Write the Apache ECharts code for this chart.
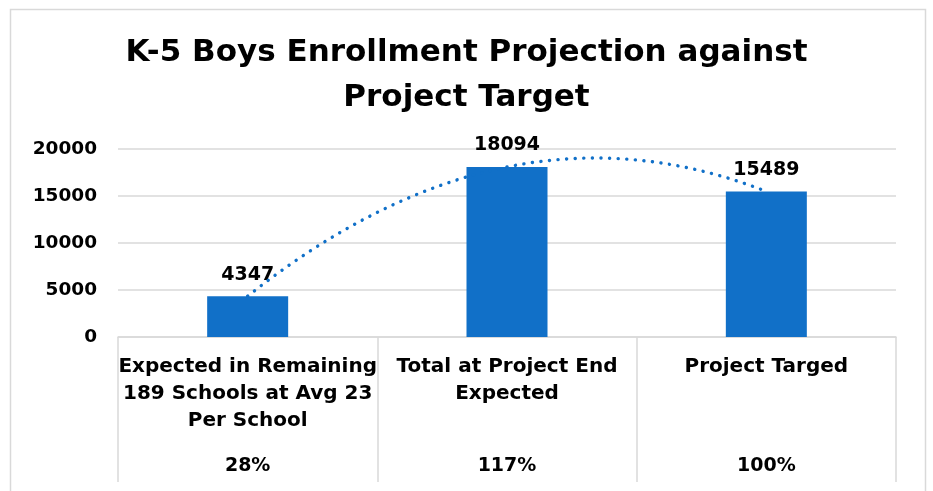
<!DOCTYPE html>
<html>
<head>
<meta charset="utf-8">
<script src="https://cdn.jsdelivr.net/npm/echarts@6/dist/echarts.min.js"></script>
<style>
  html, body { margin: 0; padding: 0; background: #fff; }
  #chart { width: 933px; height: 491px; }
</style>
</head>
<body>
<div id="chart"></div>
<script>
// data
const categories = [
  "Expected in Remaining\n189 Schools at Avg 23\nPer School",
  "Total at Project End\nExpected",
  "Project Targed"
];
const percents = ["28%", "117%", "100%"];
const values = [4347, 18094, 15489];

// polynomial (order 2) trendline, as the chart shows it, fitted to the bar values
function fitQuad(ys) {
  const a = (ys[0] - 2 * ys[1] + ys[2]) / 2;
  const b = ys[1] - ys[0] - 3 * a;
  const c = ys[0] - a - b;
  // x is 1-based like excel
  return (x) => a * (x + 1) * (x + 1) + b * (x + 1) + c;
}
const trend = fitQuad(values);
const trendData = [];
for (let i = 0; i <= 40; i++) {
  const x = i / 20;
  trendData.push([x, trend(x)]);
}

const font = '"DejaVu Sans", sans-serif';
const blue = "#1170c8";
const gray = "#d9d9d9";

const chart = echarts.init(document.getElementById("chart"));
chart.setOption({
  animation: false,
  textStyle: { fontFamily: font },
  title: {
    text: "K-5 Boys Enrollment Projection against\nProject Target",
    left: "center",
    top: 25,
    textStyle: {
      fontFamily: font,
      fontSize: 31,
      fontWeight: "bold",
      color: "#000",
      lineHeight: 45
    }
  },
  graphic: [
    {
      type: "rect",
      shape: { x: 10.5, y: 9.5, width: 915, height: 520 },
      style: { fill: "none", stroke: gray, lineWidth: 1.5 },
      silent: true
    }
  ],
  grid: { left: 118, right: 37, top: 149, bottom: 154 },
  xAxis: [
    {
      type: "category",
      data: categories,
      axisLine: { lineStyle: { color: gray, width: 1.5 } },
      axisTick: { show: true, length: 145, lineStyle: { color: gray, width: 1.5 } },
      axisLabel: {
        interval: 0,
        margin: 16,
        color: "#000",
        fontFamily: font,
        fontSize: 20,
        fontWeight: "bold",
        lineHeight: 27,
        align: "center",
        verticalAlign: "top"
      }
    },
    {
      type: "category",
      data: percents,
      position: "bottom",
      axisLine: { show: false },
      axisTick: { show: false },
      axisLabel: {
        interval: 0,
        margin: 116,
        color: "#000",
        fontFamily: font,
        fontSize: 19,
        fontWeight: "bold",
        lineHeight: 27,
        verticalAlign: "top"
      }
    },
    {
      type: "value",
      min: -0.5,
      max: 2.5,
      show: false
    }
  ],
  yAxis: {
    type: "value",
    min: 0,
    max: 20000,
    interval: 5000,
    axisLine: { show: false },
    axisTick: { show: false },
    axisLabel: {
      margin: 21,
      color: "#000",
      fontFamily: font,
      fontSize: 18.5,
      fontWeight: "bold",
      formatter: (v) => String(v)
    },
    splitLine: { lineStyle: { color: gray, width: 1.5 } }
  },
  series: [
    {
      type: "bar",
      data: values,
      xAxisIndex: 0,
      barWidth: 81,
      itemStyle: { color: blue },
      label: {
        show: true,
        position: "top",
        distance: 12,
        color: "#000",
        fontFamily: font,
        fontSize: 19,
        fontWeight: "bold"
      }
    },
    {
      type: "line",
      xAxisIndex: 2,
      data: trendData,
      showSymbol: false,
      smooth: false,
      z: 5,
      lineStyle: { color: blue, width: 3.4, type: [0.1, 8.5], cap: "round" }
    }
  ]
});
</script>
</body>
</html>
